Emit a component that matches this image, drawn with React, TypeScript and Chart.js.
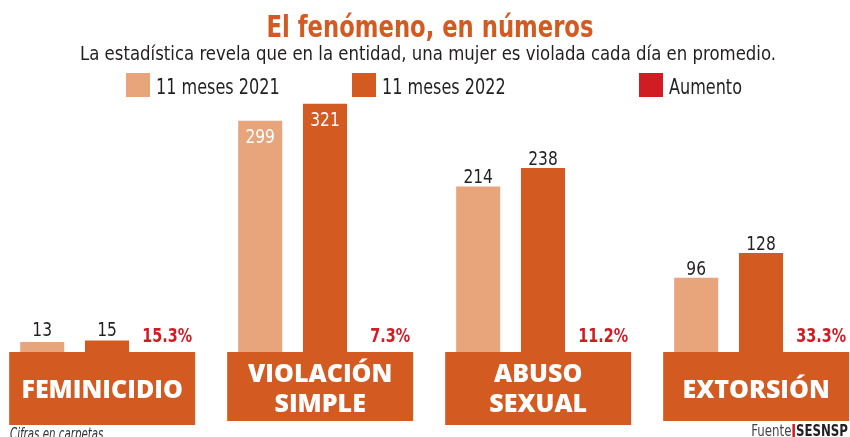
import React, { useEffect, useRef } from 'react';
import { Chart, registerables } from 'chart.js';

Chart.register(...registerables);

// ---- Data ----
const categories: string[][] = [['FEMINICIDIO'], ['VIOLACIÓN', 'SIMPLE'], ['ABUSO', 'SEXUAL'], ['EXTORSIÓN']];
const values2021: number[] = [13, 299, 214, 96];
const values2022: number[] = [15, 321, 238, 128];
const increaseLabels: string[] = ['15.3%', '7.3%', '11.2%', '33.3%'];
const seriesLabels: string[] = ['11 meses 2021', '11 meses 2022', 'Aumento'];
const titleText = 'El fenómeno, en números';
const subtitleText = 'La estadística revela que en la entidad, una mujer es violada cada día en promedio.';
const noteText = 'Cifras en carpetas';
const sourceLabel = 'Fuente';
const sourceName = 'SESNSP';

// ---- Styles ----
const LIGHT = '#E8A57B';
const DARK = '#D35A21';
const RED = '#D21C24';
const TEXT = '#231F20';
const COND = "'Liberation Sans Narrow', 'DejaVu Sans Condensed', 'Arial Narrow', sans-serif";
const HEAVY = "'Open Sans', 'DejaVu Sans', sans-serif";
const legendX = [126, 352, 639];
const SHIFT = 2; // canvas starts 2px left of the page edge
const CANVAS_W = 872;

function condText(ctx: CanvasRenderingContext2D, text: string, x: number, y: number, factor: number) {
  const w = ctx.measureText(text).width;
  ctx.fillText(text, x, y, w * factor);
}

export default function App() {
  const ref = useRef<HTMLCanvasElement>(null);

  useEffect(() => {
    const overlay = {
      id: 'overlay',
      afterDraw(chart: any) {
        const ctx: CanvasRenderingContext2D = chart.ctx;
        const yBase = chart.scales.y.getPixelForValue(0);
        const m0 = chart.getDatasetMeta(0);
        const m1 = chart.getDatasetMeta(1);
        ctx.save();
        ctx.translate(SHIFT, 0); // draw in page coordinates

        // Title
        ctx.textAlign = 'center';
        ctx.textBaseline = 'alphabetic';
        ctx.fillStyle = DARK;
        ctx.font = `bold 30px ${COND}`;
        ctx.fillText(titleText, 430, 37, 327);
        ctx.fillStyle = TEXT;
        ctx.font = `20px ${COND}`;
        ctx.fillText(subtitleText, 428, 60, 696);

        // Legend
        const legendColors = [LIGHT, DARK, RED];
        ctx.textAlign = 'left';
        ctx.font = `21px ${COND}`;
        seriesLabels.forEach((lab, k) => {
          ctx.fillStyle = legendColors[k];
          ctx.fillRect(legendX[k], 73, 24, 24);
          ctx.fillStyle = TEXT;
          condText(ctx, lab, legendX[k] + 30, 94, 0.85);
        });

        // Boxes + labels
        categories.forEach((lines, i) => {
          const b0 = m0.data[i];
          const left = b0.x - SHIFT - b0.width / 2 - 11;
          const w = 186;
          const bottom = i % 2 === 0 ? 425 : 421;
          ctx.fillStyle = DARK;
          ctx.fillRect(left, yBase, w, bottom - yBase);
          ctx.fillStyle = '#FFFFFF';
          ctx.textAlign = 'center';
          ctx.font = `800 25px ${HEAVY}`;
          if (lines.length === 1) {
            ctx.fillText(lines[0], left + w / 2, 398);
          } else {
            ctx.fillText(lines[0], left + w / 2, 381.5);
            ctx.fillText(lines[1], left + w / 2, 412);
          }
          // increase
          ctx.textAlign = 'right';
          ctx.fillStyle = RED;
          ctx.font = `bold 19px ${COND}`;
          condText(ctx, increaseLabels[i], left + w - 3, 342, 0.84);

          // values
          [m0, m1].forEach((m, d) => {
            const el = m.data[i];
            const v = (d === 0 ? values2021 : values2022)[i];
            const x = el.x - SHIFT;
            ctx.textAlign = 'center';
            ctx.font = `20px ${COND}`;
            if (v > 250) {
              ctx.fillStyle = '#FFFFFF';
              condText(ctx, String(v), x, el.y + 22, 0.86);
            } else {
              ctx.fillStyle = TEXT;
              condText(ctx, String(v), x, Math.min(el.y - 3, 336), 0.86);
            }
          });
        });

        // Footer
        ctx.textAlign = 'left';
        ctx.fillStyle = '#333333';
        ctx.font = `italic 15px ${COND}`;
        condText(ctx, noteText, 10, 439, 0.76);

        ctx.textAlign = 'right';
        ctx.font = `bold 16px ${COND}`;
        ctx.fillStyle = TEXT;
        const sw = ctx.measureText(sourceName).width * 0.82;
        ctx.fillText(sourceName, 848, 436, sw);
        const barX = 848 - sw - 3.5;
        ctx.fillStyle = RED;
        ctx.fillRect(barX, 424, 2.5, 13);
        ctx.font = `16px ${COND}`;
        ctx.fillStyle = '#444444';
        condText(ctx, sourceLabel, barX - 1, 436, 0.82);

        ctx.restore();
      },
    };

    const chart = new Chart(ref.current!, {
      type: 'bar',
      data: {
        labels: categories,
        datasets: [
          { label: seriesLabels[0], data: values2021, backgroundColor: LIGHT },
          { label: seriesLabels[1], data: values2022, backgroundColor: DARK },
          { label: seriesLabels[2], data: values2021.map(() => null), backgroundColor: RED },
        ],
      },
      options: {
        responsive: false,
        animation: false,
        layout: { padding: { left: 0, right: 0, top: 0, bottom: 85 } },
        datasets: { bar: { categoryPercentage: 0.8917, barPercentage: 0.68 } },
        plugins: { legend: { display: false }, tooltip: { enabled: false }, title: { display: false } },
        scales: {
          x: { display: false, grid: { display: false } },
          y: { display: false, min: 0, max: 455, grid: { display: false } },
        },
      },
      plugins: [overlay],
    });
    return () => chart.destroy();
  }, []);

  return (
    <div style={{ position: 'fixed', left: 0, top: 0, width: 850, height: 437, overflow: 'hidden', background: '#fff' }}>
      <canvas
        ref={ref}
        width={CANVAS_W}
        height={437}
        style={{ display: 'block', position: 'absolute', left: -SHIFT, top: 0 }}
      />
    </div>
  );
}
